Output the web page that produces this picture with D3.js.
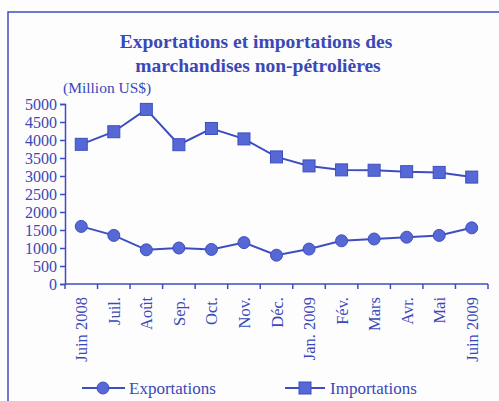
<!DOCTYPE html>
<html>
<head>
<meta charset="utf-8">
<script src="https://cdn.jsdelivr.net/npm/d3@7"></script>
<style>
  body { margin: 0; background: #fdfdfd; }
  svg text { font-family: "Liberation Serif", "DejaVu Serif", serif; fill: #3a48b8; }
</style>
</head>
<body>
<div id="chart"></div>
<script>

var months = ["Juin 2008", "Juil.", "Août", "Sep.", "Oct.", "Nov.", "Déc.",
              "Jan. 2009", "Fév.", "Mars", "Avr.", "Mai", "Juin 2009"];
var exportations = [1600, 1350, 950, 1000, 960, 1150, 800, 970, 1200, 1250, 1300, 1350, 1560];
var importations = [3880, 4230, 4850, 3870, 4320, 4030, 3530, 3280, 3170, 3160, 3120, 3100, 2970];
var yTicks = [0, 500, 1000, 1500, 2000, 2500, 3000, 3500, 4000, 4500, 5000];

var W = 499, H = 401;
var blue = "#3e4ec2", fillBlue = "#5568d6";

var svg = d3.select("#chart").append("svg")
    .attr("width", W)
    .attr("height", H);

// frame
svg.append("path")
    .attr("d", "M 8 405 L 8 12 L 505 12")
    .style("fill", "none")
    .style("stroke", blue)
    .style("stroke-width", 1.5);

// title
svg.append("text")
    .attr("x", 256).attr("y", 48)
    .attr("text-anchor", "middle")
    .style("font-size", "19.5px").style("font-weight", "bold")
    .text("Exportations et importations des");
svg.append("text")
    .attr("x", 258).attr("y", 72)
    .attr("text-anchor", "middle")
    .style("font-size", "19.5px").style("font-weight", "bold")
    .text("marchandises non-pétrolières");

svg.append("text")
    .attr("x", 63).attr("y", 93)
    .style("font-size", "15.5px")
    .text("(Million US$)");

var x = d3.scaleBand().domain(months).range([65, 488]);
var y = d3.scaleLinear().domain([0, 5000]).range([284, 104]);

// y axis
var yAxis = svg.append("g")
    .attr("transform", "translate(65,0)")
    .call(d3.axisLeft(y).tickValues(yTicks).tickFormat(d3.format("d")).tickSize(5).tickPadding(3));
yAxis.selectAll("text").style("font-size", "16px").style("font-family", "Liberation Serif, serif").attr("fill", "#3a48b8");
yAxis.selectAll("line, path").attr("stroke", blue).style("stroke-width", 1.5);

// x axis: ticks at category boundaries
var xg = svg.append("g");
xg.append("line")
    .attr("x1", 65).attr("x2", 488)
    .attr("y1", 284).attr("y2", 284)
    .style("stroke", blue).style("stroke-width", 1.5);
var bounds = months.map(function(m) { return x(m); }).concat([x.range()[1]]);
xg.selectAll("line.tick").data(bounds).enter().append("line")
    .attr("class", "tick")
    .attr("x1", function(d) { return d; }).attr("x2", function(d) { return d; })
    .attr("y1", 284).attr("y2", 289)
    .style("stroke", blue).style("stroke-width", 1.5);
xg.selectAll("text").data(months).enter().append("text")
    .attr("transform", function(d) {
        return "translate(" + (x(d) + x.bandwidth() / 2 + 6) + ",297) rotate(-90)";
    })
    .attr("text-anchor", "end")
    .style("font-size", "16.5px")
    .text(function(d) { return d; });

var line = d3.line()
    .x(function(d, i) { return x(months[i]) + x.bandwidth() / 2; })
    .y(function(d) { return y(d); });

// importations
svg.append("path")
    .datum(importations)
    .attr("d", line)
    .style("fill", "none").style("stroke", blue).style("stroke-width", 2);
svg.selectAll("rect.imp").data(importations).enter().append("rect")
    .attr("class", "imp")
    .attr("x", function(d, i) { return x(months[i]) + x.bandwidth() / 2 - 6; })
    .attr("y", function(d) { return y(d) - 6; })
    .attr("width", 12).attr("height", 12)
    .style("fill", fillBlue).style("stroke", blue).style("stroke-width", 1);

// exportations
svg.append("path")
    .datum(exportations)
    .attr("d", line)
    .style("fill", "none").style("stroke", blue).style("stroke-width", 2);
svg.selectAll("circle.exp").data(exportations).enter().append("circle")
    .attr("class", "exp")
    .attr("cx", function(d, i) { return x(months[i]) + x.bandwidth() / 2; })
    .attr("cy", function(d) { return y(d); })
    .attr("r", 6)
    .style("fill", fillBlue).style("stroke", blue).style("stroke-width", 1);

// legend
var ly = 388;
svg.append("line").attr("x1", 82).attr("x2", 125).attr("y1", ly).attr("y2", ly)
    .style("stroke", blue).style("stroke-width", 2);
svg.append("circle").attr("cx", 103).attr("cy", ly).attr("r", 6)
    .style("fill", fillBlue).style("stroke", blue);
svg.append("text").attr("x", 129).attr("y", ly + 6)
    .style("font-size", "17px").text("Exportations");

svg.append("line").attr("x1", 285).attr("x2", 325).attr("y1", ly).attr("y2", ly)
    .style("stroke", blue).style("stroke-width", 2);
svg.append("rect").attr("x", 299).attr("y", ly - 6).attr("width", 12).attr("height", 12)
    .style("fill", fillBlue).style("stroke", blue);
svg.append("text").attr("x", 330).attr("y", ly + 6)
    .style("font-size", "17px").text("Importations");

</script>
</body>
</html>
